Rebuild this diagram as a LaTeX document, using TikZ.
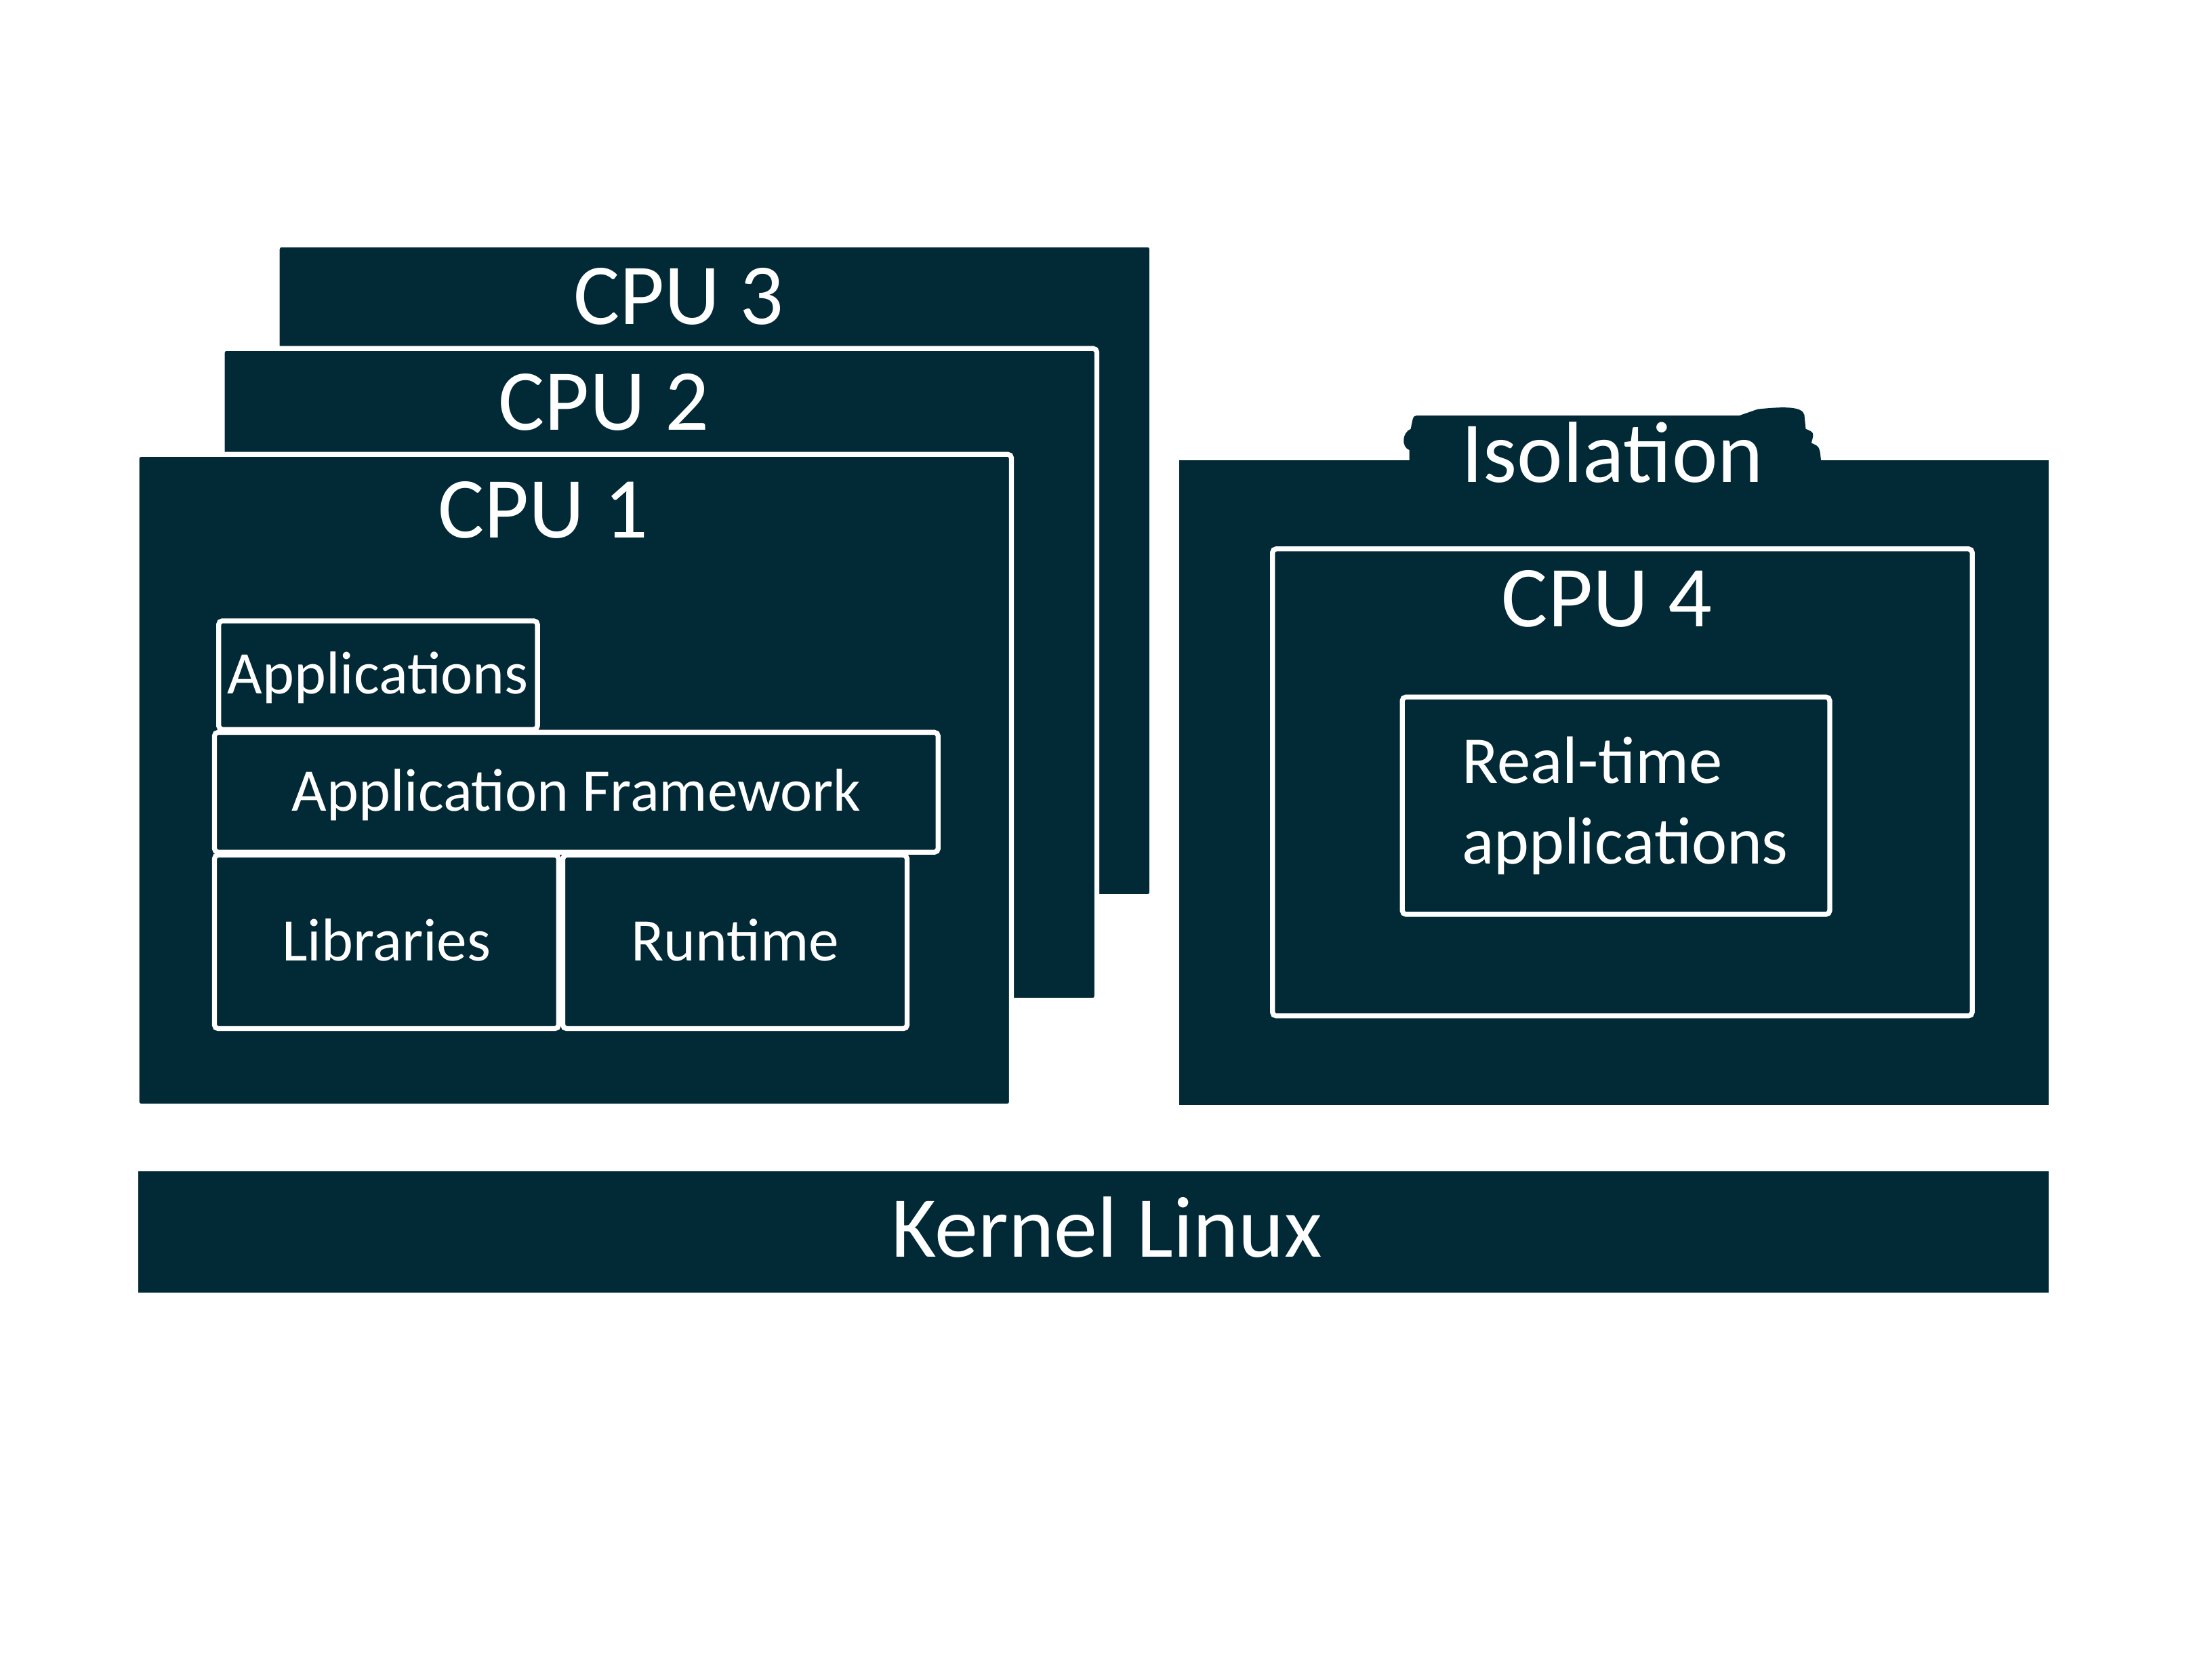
\documentclass[tikz,border=0pt]{standalone}
\usepackage{fontspec}
\setmainfont{Carlito}
\definecolor{panel}{RGB}{2,42,54}

\begin{document}
\begin{tikzpicture}[
        box/.style={rectangle, draw=white, fill=panel, line width=2pt, rounded corners=1.5pt},
        cpu/.style={box, minimum width=12.40cm, minimum height=9.24cm},
        layer/.style={box, text=white, font=\fontsize{24.4}{29}\selectfont, text height=0.53cm, text depth=0cm, inner sep=0pt},
        title/.style={text=white, font=\fontsize{35}{42}\selectfont, anchor=base, inner sep=0pt}
    ]
        \useasboundingbox (0,-0.24) rectangle (31.36,23.28);

        % CPU stack
        \node[cpu] (cpu3) at (10.13,15.19) {};
        \node[title] (cpu3title) at (9.62,18.68) {CPU 3};
        \node[cpu] (cpu2) at (9.35,13.72) {};
        \node[title] (cpu2title) at (8.56,17.18) {CPU 2};
        \node[cpu] (cpu1) at (8.14,12.22) {};
        \node[title] (cpu1title) at (7.70,15.66) {CPU 1};

        % Software layers
        \node[layer, minimum width=4.52cm, minimum height=1.54cm] (apps) at (5.36,13.71) {Applications};
        \node[layer, minimum width=10.26cm, minimum height=1.70cm] (framework) at (8.17,12.05) {Application Framework};
        \node[layer, minimum width=4.88cm, minimum height=2.46cm] (libs) at (5.48,9.93) {Libraries};
        \node[layer, minimum width=4.88cm, minimum height=2.46cm] (runtime) at (10.42,9.93) {Runtime};

        % Isolation
        \fill[panel] (19.98,16.70) -- (19.98,16.90) .. controls (19.86,16.95) and (19.88,17.15) .. (20.00,17.20)
            -- (20.02,17.30) .. controls (20.04,17.39) .. (20.14,17.39) -- (24.66,17.39)
            -- (24.92,17.48) .. controls (25.30,17.52) and (25.55,17.52) .. (25.58,17.40)
            -- (25.60,17.20) .. controls (25.72,17.15) .. (25.68,17.00) .. controls (25.80,16.95) .. (25.82,16.70) -- cycle;
        \node[rectangle, fill=panel, minimum width=12.32cm, minimum height=9.14cm] (isolation) at (22.88,12.19) {};
        \node[title] (isotitle) at (22.86,16.44) {Isolation};
        \node[box, minimum width=9.92cm, minimum height=6.62cm] (cpu4) at (23.00,12.19) {};
        \node[title] (cpu4title) at (22.78,14.40) {CPU 4};
        \node[box, minimum width=6.06cm, minimum height=3.08cm] (realtime) at (22.91,11.86) {};
        \node[text=white, font=\fontsize{27}{32.4}\selectfont, align=left, anchor=west, inner sep=0pt] (rttext) at (20.72,11.86) {Real-time\\applications};

        % Kernel
        \node[rectangle, fill=panel, minimum width=27.08cm, minimum height=1.72cm] (kernel) at (15.50,5.82) {};
        \node[title] (kerneltitle) at (15.69,5.46) {Kernel Linux};

    \end{tikzpicture}
\end{document}
